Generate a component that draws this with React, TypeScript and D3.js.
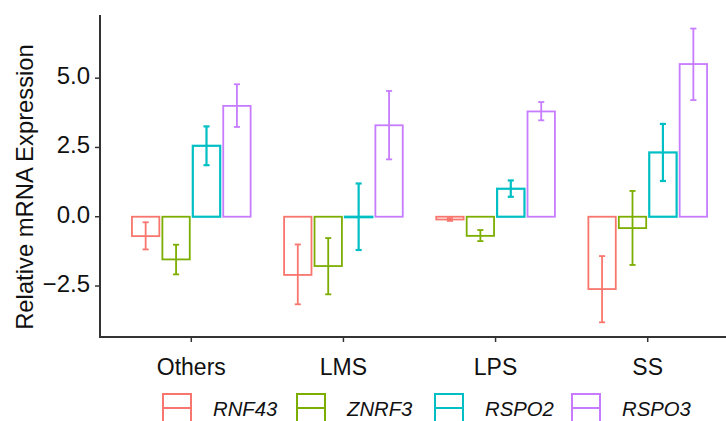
import React from "react";
import * as d3 from "d3";

const categories = ["Others", "LMS", "LPS", "SS"];
const genes = ["RNF43", "ZNRF3", "RSPO2", "RSPO3"];
const colors = ["#F8766D", "#7CAE00", "#00BFC4", "#C77CFF"];
// mean values per gene, in category order
const rnf43 = [-0.7, -2.1, -0.1, -2.61];
const znrf3 = [-1.54, -1.78, -0.69, -0.41];
const rspo2 = [2.56, 0.0, 1.01, 2.32];
const rspo3 = [4.0, 3.3, 3.8, 5.51];
// error bar lows / highs
const rnf43Lo = [-1.18, -3.16, -0.15, -3.81];
const rnf43Hi = [-0.2, -1.0, -0.05, -1.42];
const znrf3Lo = [-2.08, -2.8, -0.88, -1.74];
const znrf3Hi = [-1.01, -0.77, -0.48, 0.93];
const rspo2Lo = [1.86, -1.2, 0.72, 1.29];
const rspo2Hi = [3.26, 1.2, 1.31, 3.35];
const rspo3Lo = [3.24, 2.07, 3.48, 4.21];
const rspo3Hi = [4.78, 4.54, 4.14, 6.79];
const yTicks = [-2.5, 0, 2.5, 5];

const values = [rnf43, znrf3, rspo2, rspo3];
const lows = [rnf43Lo, znrf3Lo, rspo2Lo, rspo3Lo];
const highs = [rnf43Hi, znrf3Hi, rspo2Hi, rspo3Hi];

export default function App() {
  const W = 726, H = 421;
  const left = 100, right = 739, top = 15, bottom = 337;
  const x = d3.scalePoint<string>().domain(categories).range([left, right]).padding(0.6);
  const step = x.step();
  const y = d3.scaleLinear().domain([-4.34, 7.28]).range([bottom, top]);
  const slot = step * 0.2;
  const bw = step * 0.18;
  const cap = step * 0.04;
  const font = "Liberation Sans, Arial, Helvetica, sans-serif";
  const sw = [1.8, 1.8, 2.2, 1.8];

  const legendX = [163, 297, 435, 572];

  return (
    <svg width={W} height={H} style={{ position: "absolute", left: 0, top: 0 }} fontFamily={font}>
      <rect x={0} y={0} width={W} height={H} fill="#fff" />
      {genes.map((g, gi) =>
        categories.map((c, ci) => {
          const cx = (x(c) as number) + (gi - 1.5) * slot;
          const v = values[gi][ci];
          const y0 = y(0), y1 = y(v);
          return (
            <g key={g + c}>
              <rect
                x={cx - bw / 2}
                y={Math.min(y0, y1)}
                width={bw}
                height={Math.max(Math.abs(y1 - y0), 0.5)}
                fill="none"
                stroke={colors[gi]}
                strokeWidth={sw[gi]}
              />
              <line x1={cx} x2={cx} y1={y(lows[gi][ci])} y2={y(highs[gi][ci])} stroke={colors[gi]} strokeWidth={sw[gi]} />
              <line x1={cx - cap / 2} x2={cx + cap / 2} y1={y(lows[gi][ci])} y2={y(lows[gi][ci])} stroke={colors[gi]} strokeWidth={sw[gi]} />
              <line x1={cx - cap / 2} x2={cx + cap / 2} y1={y(highs[gi][ci])} y2={y(highs[gi][ci])} stroke={colors[gi]} strokeWidth={sw[gi]} />
            </g>
          );
        })
      )}
      {/* axes */}
      <line x1={left} x2={left} y1={top} y2={bottom + 1} stroke="#333" strokeWidth={2} />
      <line x1={left - 1} x2={right} y1={bottom} y2={bottom} stroke="#333" strokeWidth={2} />
      {yTicks.map((t) => (
        <g key={t}>
          <line x1={left - 5} x2={left} y1={y(t)} y2={y(t)} stroke="#333" strokeWidth={1.5} />
          <text x={left - 10} y={y(t)} dy="0.25em" textAnchor="end" fontSize={24} fill="#111">
            {d3.format(".1f")(t).replace("-", "\u2212")}
          </text>
        </g>
      ))}
      {categories.map((c) => (
        <g key={c}>
          <line x1={x(c)} x2={x(c)} y1={bottom} y2={bottom + 5} stroke="#333" strokeWidth={1.5} />
          <text x={x(c)} y={375} textAnchor="middle" fontSize={23} fill="#111">
            {c}
          </text>
        </g>
      ))}
      <text
        transform={`translate(33, 187) rotate(-90)`}
        textAnchor="middle"
        fontSize={23.8}
        fill="#111"
      >
        Relative mRNA Expression
      </text>
      {/* legend */}
      {genes.map((g, gi) => (
        <g key={g}>
          <rect x={legendX[gi]} y={394} width={28} height={28} fill="#fff" stroke={colors[gi]} strokeWidth={2} />
          <line x1={legendX[gi]} x2={legendX[gi] + 28} y1={408} y2={408} stroke={colors[gi]} strokeWidth={2} />
          <text x={legendX[gi] + 50} y={416} fontSize={20.3} fontStyle="italic" fill="#111">
            {g}
          </text>
        </g>
      ))}
    </svg>
  );
}
